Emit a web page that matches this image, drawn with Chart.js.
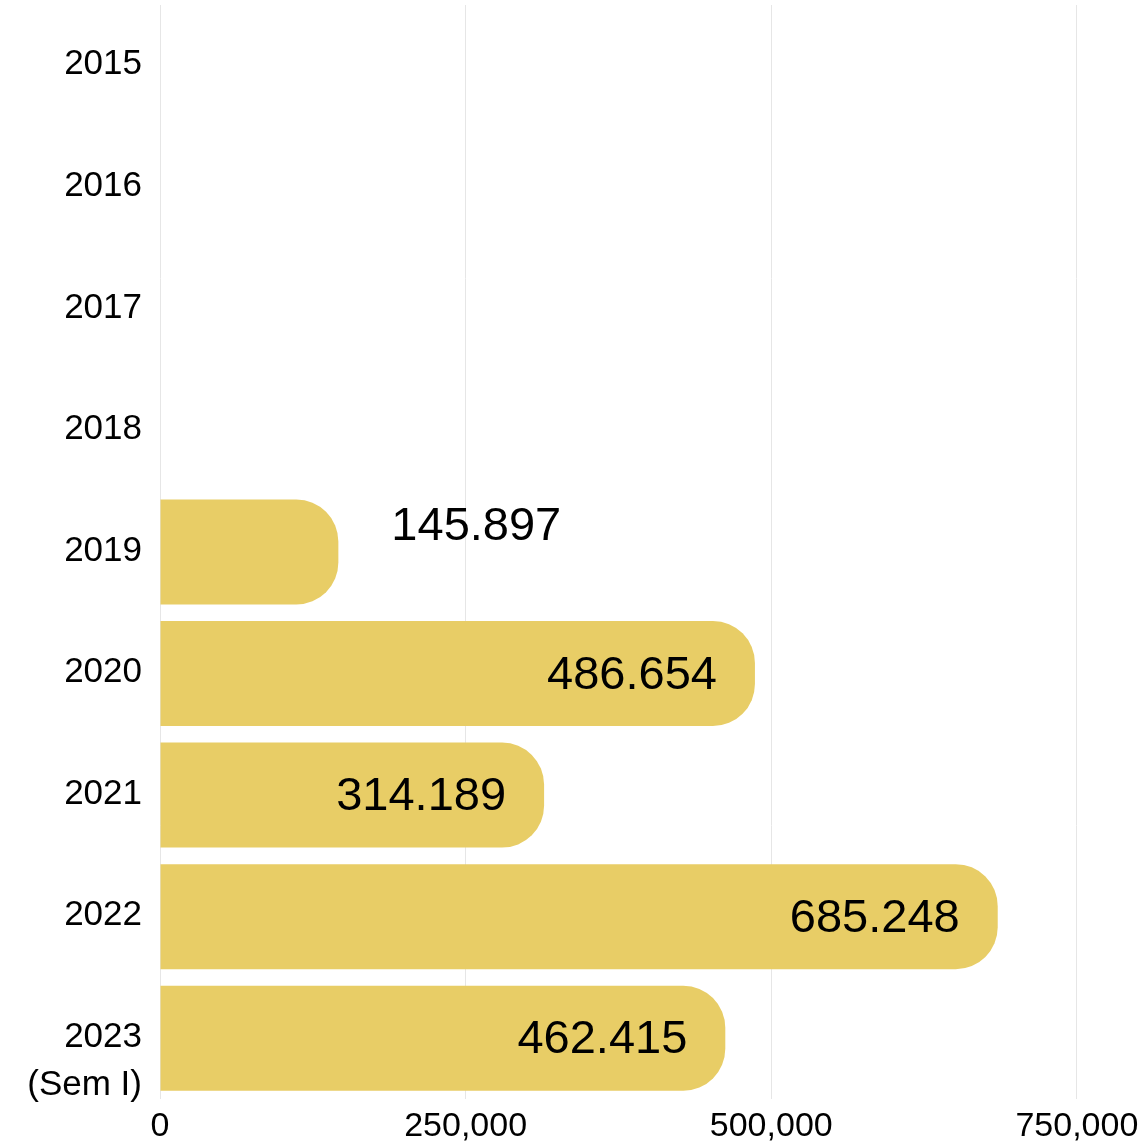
<!DOCTYPE html>
<html>
<head>
<meta charset="utf-8">
<script src="https://cdn.jsdelivr.net/npm/chart.js@4.4.1/dist/chart.umd.min.js"></script>
<style>
    html, body { margin: 0; padding: 0; background: #fff; }
    #wrap { width: 1138px; height: 1141px; }
</style>
</head>
<body>
<div id="wrap"><canvas id="barChart"></canvas></div>
<script>
const years = ['2015', '2016', '2017', '2018', '2019', '2020', '2021', '2022', ['2023', '(Sem I)']];
const totals = [null, null, null, null, 145897, 486654, 314189, 685248, 462415];
const axisTicks = [0, 250000, 500000, 750000];

const fontFamily = '"Liberation Sans", Arial, sans-serif';
const tickFont = '35px ' + fontFamily;

// value labels (inside the bar end unless the bar is short) and
// the extra lines of multi-line year labels, hung under the first line
const valueLabels = {
    id: 'valueLabels',
    afterDatasetsDraw(chart) {
        const ctx = chart.ctx;
        const meta = chart.getDatasetMeta(0);
        ctx.save();
        ctx.font = '47px ' + fontFamily;
        ctx.fillStyle = '#000';
        ctx.textBaseline = 'middle';
        meta.data.forEach((bar, i) => {
            const v = totals[i];
            if (v == null) return;
            const text = new Intl.NumberFormat('de-DE').format(v);
            const len = bar.x - bar.base;
            if (len < 250) {
                ctx.textAlign = 'left';
                ctx.fillText(text, bar.x + 53, bar.y - 25);
            } else {
                ctx.textAlign = 'right';
                ctx.fillText(text, bar.x - 38, bar.y + 2);
            }
        });

        const yScale = chart.scales.y;
        ctx.font = tickFont;
        ctx.textAlign = 'right';
        years.forEach((label, i) => {
            if (!Array.isArray(label)) return;
            const y = yScale.getPixelForTick(i) - 1;
            label.slice(1).forEach((line, k) => {
                ctx.fillText(line, yScale.right - 18, y + 48 * (k + 1));
            });
        });
        ctx.restore();
    }
};

new Chart(document.getElementById('barChart'), {
    type: 'bar',
    data: {
        labels: years,
        datasets: [{
            data: totals,
            backgroundColor: '#e8cd66',
            borderRadius: 42,
            borderSkipped: 'start',
            categoryPercentage: 1,
            barPercentage: 0.864
        }]
    },
    options: {
        indexAxis: 'y',
        responsive: true,
        maintainAspectRatio: false,
        animation: false,
        layout: {padding: {top: 5, right: 0, bottom: 0, left: 0}},
        plugins: {
            legend: {display: false},
            tooltip: {enabled: false}
        },
        scales: {
            x: {
                min: 0,
                max: 800000,
                afterBuildTicks: function (scale) {
                    scale.ticks = axisTicks.map(v => ({value: v}));
                },
                afterFit: function (scale) {
                    scale.height = 42;
                    scale.paddingLeft = 0;
                    scale.paddingRight = 0;
                },
                grid: {color: '#e6e6e6', drawTicks: false},
                border: {display: false},
                ticks: {
                    color: '#000',
                    padding: 11,
                    maxRotation: 0,
                    font: {family: fontFamily, size: 34, lineHeight: 1},
                    callback: function (value) {
                        return new Intl.NumberFormat('en-US').format(value);
                    }
                }
            },
            y: {
                afterFit: function (scale) {
                    scale.width = 160;
                    scale.paddingTop = 0;
                    scale.paddingBottom = 0;
                },
                grid: {display: false, drawTicks: false},
                border: {display: false},
                ticks: {
                    color: '#000',
                    padding: 18,
                    labelOffset: -1,
                    font: {family: fontFamily, size: 35},
                    callback: function (value, index) {
                        const label = years[index];
                        return Array.isArray(label) ? label[0] : label;
                    }
                }
            }
        }
    },
    plugins: [valueLabels]
});
</script>
</body>
</html>
